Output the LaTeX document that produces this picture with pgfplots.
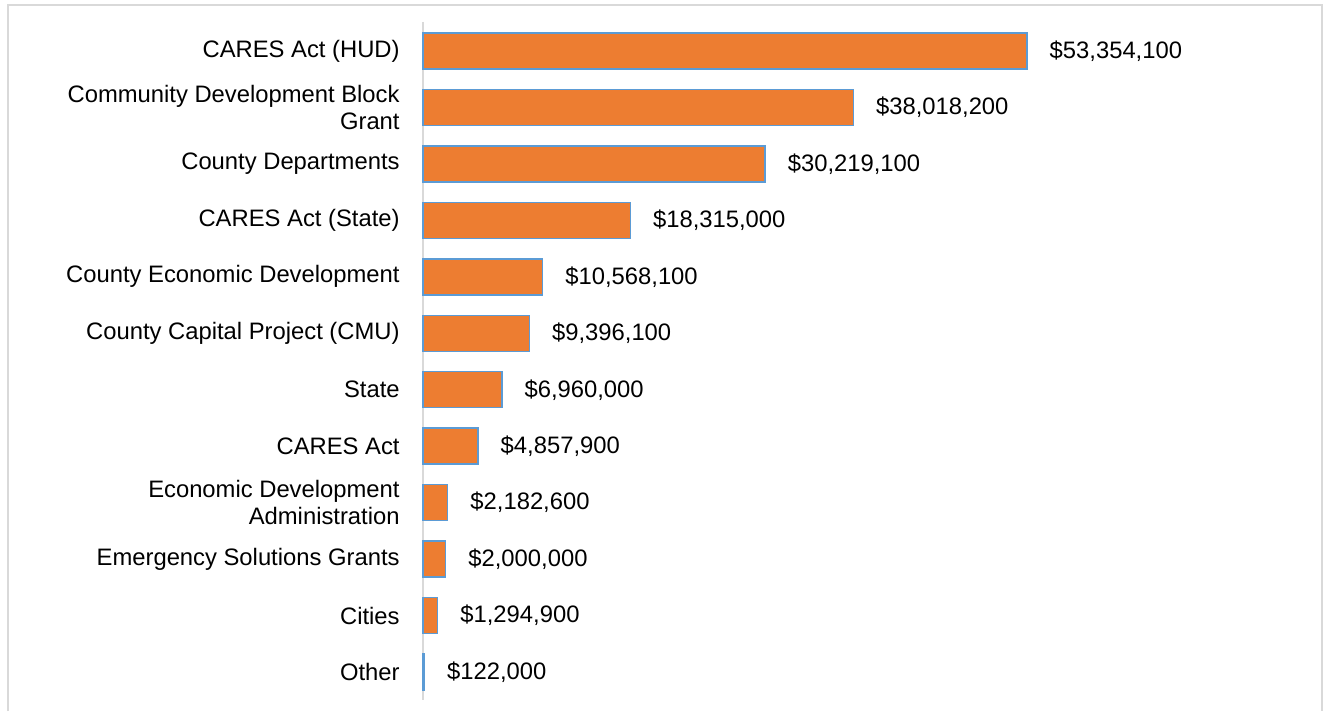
\documentclass[border=0pt]{standalone}
\usepackage{pgfplots}
\pgfplotsset{compat=1.18}
\usepackage{fontspec}
\setmainfont{Liberation Sans}
\definecolor{barfill}{HTML}{ED7D31}
\definecolor{barline}{HTML}{5B9BD5}
\definecolor{framegray}{HTML}{D9D9D9}

\begin{document}
\begin{tikzpicture}
\useasboundingbox (0,0) rectangle (665.5pt,355.5pt);
\draw[framegray, line width=1pt] (4pt,0) -- (4pt,353pt) -- (661pt,353pt) -- (661pt,0);
\begin{axis}[
  at={(211.5pt,5.5pt)}, anchor=south west,
  scale only axis,
  width=339.6pt, height=339pt,
  xbar, bar width=18pt,
  xmin=0, xmax=60000000,
  ymin=-0.514, ymax=11.496,
  y dir=reverse,
  axis x line=none,
  axis y line*=left,
  y axis line style={-, draw=framegray, line width=1pt},
  major tick length=0pt,
  ytick={0,1,2,3,4,5,6,7,8,9,10,11},
  yticklabels={CARES Act (HUD),{Community Development Block\\Grant},County Departments,CARES Act (State),County Economic Development,County Capital Project (CMU),State,CARES Act,{Economic Development\\Administration},Emergency Solutions Grants,Cities,Other},
  yticklabel style={align=right, inner sep=0pt, xshift=-11.5pt, font=\fontsize{11.9}{13.4}\selectfont},
  clip=false,
  nodes near coords={\$\pgfmathprintnumber{\pgfplotspointmeta}},
  nodes near coords style={anchor=west, inner sep=0pt, xshift=11pt, font=\fontsize{11.9}{13.4}\selectfont,
    /pgf/number format/.cd, fixed, precision=0, 1000 sep={,}, assume math mode=true},
]
\addplot[fill=barfill, draw=barline, line width=0.75pt] coordinates {
  (53354100,0)
  (38018200,1)
  (30219100,2)
  (18315000,3)
  (10568100,4)
  (9396100,5)
  (6960000,6)
  (4857900,7)
  (2182600,8)
  (2000000,9)
  (1294900,10)
  (122000,11)
};
\end{axis}
\end{tikzpicture}
\end{document}
